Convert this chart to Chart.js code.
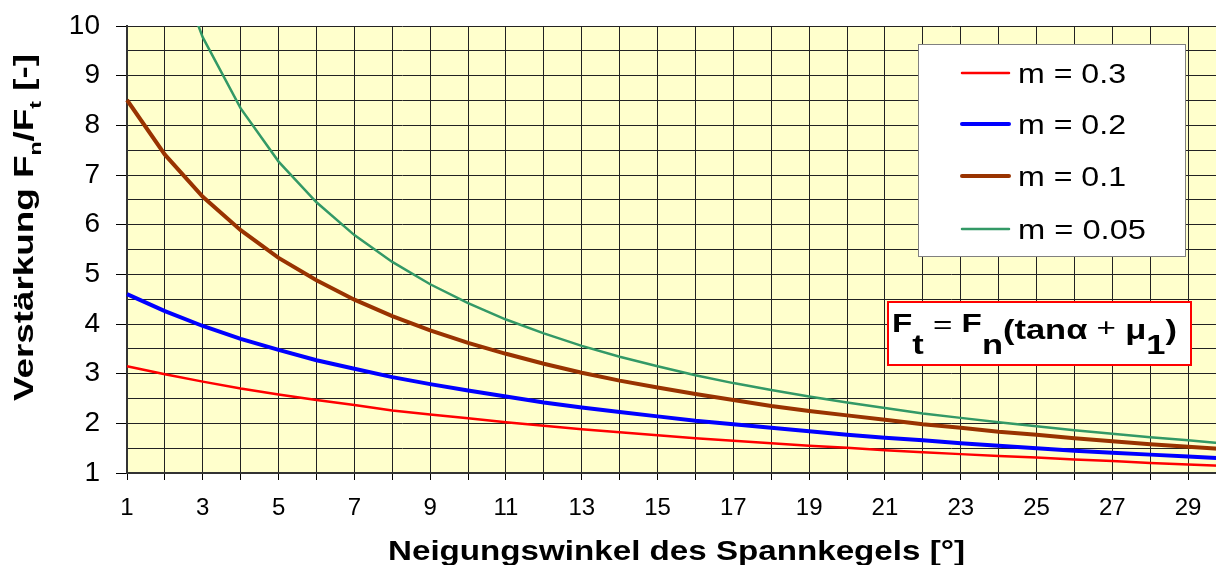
<!DOCTYPE html>
<html>
<head>
<meta charset="utf-8">
<script src="https://cdn.jsdelivr.net/npm/chart.js@4"></script>
<style>
    body { margin: 0; background: #fff; overflow: hidden; }
    #wrap { position: absolute; left: 0; top: 0; width: 1250px; height: 565px; }
</style>
</head>
<body>
<div id="wrap"><canvas id="chart" width="1250" height="565"></canvas></div>
<script>
// Neigungswinkel in Grad
const angles = [1, 2, 3, 4, 5, 6, 7, 8, 9, 10, 11, 12, 13, 14, 15,
    16, 17, 18, 19, 20, 21, 22, 23, 24, 25, 26, 27, 28, 29, 30];

// Verstärkung Fn/Ft je Reibwert
const m030 = [3.15, 2.99, 2.84, 2.70, 2.58, 2.47, 2.37, 2.26, 2.18, 2.10,
    2.02, 1.95, 1.88, 1.82, 1.76, 1.70, 1.65, 1.60, 1.55, 1.51,
    1.46, 1.42, 1.38, 1.34, 1.31, 1.27, 1.24, 1.20, 1.17, 1.14];
const m020 = [4.60, 4.26, 3.96, 3.70, 3.48, 3.27, 3.10, 2.93, 2.79, 2.66,
    2.54, 2.42, 2.32, 2.23, 2.14, 2.05, 1.98, 1.91, 1.84, 1.77,
    1.71, 1.66, 1.60, 1.55, 1.50, 1.45, 1.41, 1.37, 1.33, 1.29];
const m010 = [8.51, 7.41, 6.56, 5.89, 5.33, 4.88, 4.49, 4.16, 3.87, 3.62,
    3.40, 3.20, 3.02, 2.86, 2.72, 2.59, 2.47, 2.35, 2.25, 2.16,
    2.07, 1.98, 1.91, 1.83, 1.77, 1.70, 1.64, 1.58, 1.53, 1.48];
const m005 = [14.82, 11.78, 9.77, 8.34, 7.27, 6.45, 5.79, 5.25, 4.80, 4.42,
    4.09, 3.81, 3.56, 3.34, 3.15, 2.97, 2.81, 2.67, 2.54, 2.42,
    2.31, 2.20, 2.11, 2.02, 1.94, 1.86, 1.79, 1.72, 1.66, 1.59];

const seriesLabels = ['m = 0.3', 'm = 0.2', 'm = 0.1', 'm = 0.05'];
const seriesColors = ['#FF0000', '#0000FF', '#993300', '#339966'];
const seriesWidths = [2.5, 4, 4, 2.5];

const FONT = "'Liberation Sans', Arial, sans-serif";

// Text in Laufrichtung gestreckt zeichnen (Segmente mit eigenem Font und Versatz)
function drawStretched(ctx, segs, x0, y0, targetWidth) {
    let total = 0;
    segs.forEach(s => { ctx.font = s.font + ' ' + FONT; total += ctx.measureText(s.text).width; });
    const sx = targetWidth / total;
    ctx.save();
    ctx.translate(x0, y0);
    ctx.scale(sx, 1);
    let x = 0;
    segs.forEach(s => {
        ctx.font = s.font + ' ' + FONT;
        ctx.fillText(s.text, x, s.dy || 0);
        x += ctx.measureText(s.text).width;
    });
    ctx.restore();
}

// Hintergrund der Zeichenfläche
const plotBackground = {
    id: 'plotBackground',
    beforeDraw(chart) {
        const { ctx, chartArea: a } = chart;
        ctx.save();
        ctx.fillStyle = '#FFFFCC';
        ctx.fillRect(a.left, a.top, a.right - a.left, a.bottom - a.top);
        ctx.restore();
    }
};

// Legende im Diagramm, Formelkasten und Achsentitel
const overlays = {
    id: 'overlays',
    afterDraw(chart) {
        const ctx = chart.ctx;
        ctx.save();
        ctx.textBaseline = 'alphabetic';

        // Legende
        ctx.fillStyle = '#fff';
        ctx.fillRect(918, 44, 267, 212);
        ctx.strokeStyle = '#808080';
        ctx.lineWidth = 1;
        ctx.strokeRect(918.5, 44.5, 267, 212);
        const rows = [73, 124, 176, 229];
        const legendWidths = [108, 108, 108, 128];
        chart.data.datasets.forEach((ds, i) => {
            ctx.beginPath();
            ctx.strokeStyle = ds.borderColor;
            ctx.lineWidth = ds.borderWidth;
            ctx.lineCap = 'round';
            ctx.moveTo(962, rows[i]);
            ctx.lineTo(1009, rows[i]);
            ctx.stroke();
            ctx.fillStyle = '#000';
            drawStretched(ctx, [{ text: ds.label, font: '28px' }], 1018, rows[i] + 10, legendWidths[i]);
        });

        // Formelkasten
        ctx.fillStyle = '#fff';
        ctx.fillRect(887, 301, 305, 65);
        ctx.strokeStyle = '#FF0000';
        ctx.lineWidth = 2;
        ctx.strokeRect(888, 302, 303, 63);
        ctx.fillStyle = '#000';
        drawStretched(ctx, [
            { text: 'F', font: 'bold 26px' },
            { text: 't', font: 'bold 27px', dy: 22 },
            { text: ' = ', font: '26px', dy: 1 },
            { text: 'F', font: 'bold 26px' },
            { text: 'n', font: 'bold 27px', dy: 22 },
            { text: '(tan\u03B1', font: 'bold 27px', dy: 7 },
            { text: ' + ', font: '26px', dy: 4 },
            { text: '\u03BC', font: 'bold 27px', dy: 7 },
            { text: '1', font: 'bold 27px', dy: 22 },
            { text: ')', font: 'bold 27px', dy: 7 }
        ], 892, 332, 285);

        // y-Achsentitel mit Indizes
        ctx.translate(33, 228);
        ctx.rotate(-Math.PI / 2);
        drawStretched(ctx, [
            { text: 'Verst\u00E4rkung F', font: 'bold 27px' },
            { text: 'n', font: 'bold 17px', dy: 8 },
            { text: '/F', font: 'bold 27px' },
            { text: 't', font: 'bold 17px', dy: 8 },
            { text: ' [-]', font: 'bold 27px' }
        ], -173, 0, 347);
        ctx.restore();

        // x-Achsentitel
        ctx.save();
        ctx.fillStyle = '#000';
        ctx.textBaseline = 'alphabetic';
        drawStretched(ctx, [{ text: 'Neigungswinkel des Spannkegels [\u00B0]', font: 'bold 28px' }], 388, 560, 577);
        ctx.restore();
    }
};

new Chart(document.getElementById('chart'), {
    type: 'line',
    data: {
        labels: angles,
        datasets: [m030, m020, m010, m005].map((vals, i) => ({
            label: seriesLabels[i],
            data: vals,
            borderColor: seriesColors[i],
            backgroundColor: seriesColors[i],
            borderWidth: seriesWidths[i],
            pointRadius: 0,
            tension: 0,
            fill: false
        }))
    },
    options: {
        responsive: false,
        animation: false,
        layout: { padding: { left: 0, top: 26, right: 24, bottom: 0 } },
        plugins: {
            legend: { display: false },
            tooltip: { enabled: false }
        },
        scales: {
            x: {
                type: 'category',
                offset: false,
                afterFit: s => { s.height = 92; s.paddingLeft = 0; s.paddingRight = 0; },
                grid: { color: '#222', lineWidth: 1, tickLength: 7, tickColor: '#000' },
                border: { color: '#333', width: 2 },
                ticks: {
                    autoSkip: false,
                    maxRotation: 0,
                    padding: 14,
                    color: '#000',
                    font: { family: FONT, size: 24 },
                    callback: function (v) {
                        const a = angles[v];
                        return a % 2 === 1 ? String(a) : '';
                    }
                }
            },
            y: {
                min: 1,
                max: 10,
                afterFit: s => { s.width = 127; s.paddingTop = 0; s.paddingBottom = 0; },
                grid: {
                    color: '#222',
                    lineWidth: 1,
                    tickLength: 11,
                    tickColor: c => (c.tick && Number.isInteger(c.tick.value)) ? '#000' : 'rgba(0,0,0,0)'
                },
                border: { color: '#333', width: 2 },
                ticks: {
                    stepSize: 0.5,
                    autoSkip: false,
                    padding: 16,
                    color: '#000',
                    font: { family: FONT, size: 28 },
                    callback: v => Number.isInteger(v) ? String(v) : ''
                }
            }
        }
    },
    plugins: [plotBackground, overlays]
});
</script>
</body>
</html>
